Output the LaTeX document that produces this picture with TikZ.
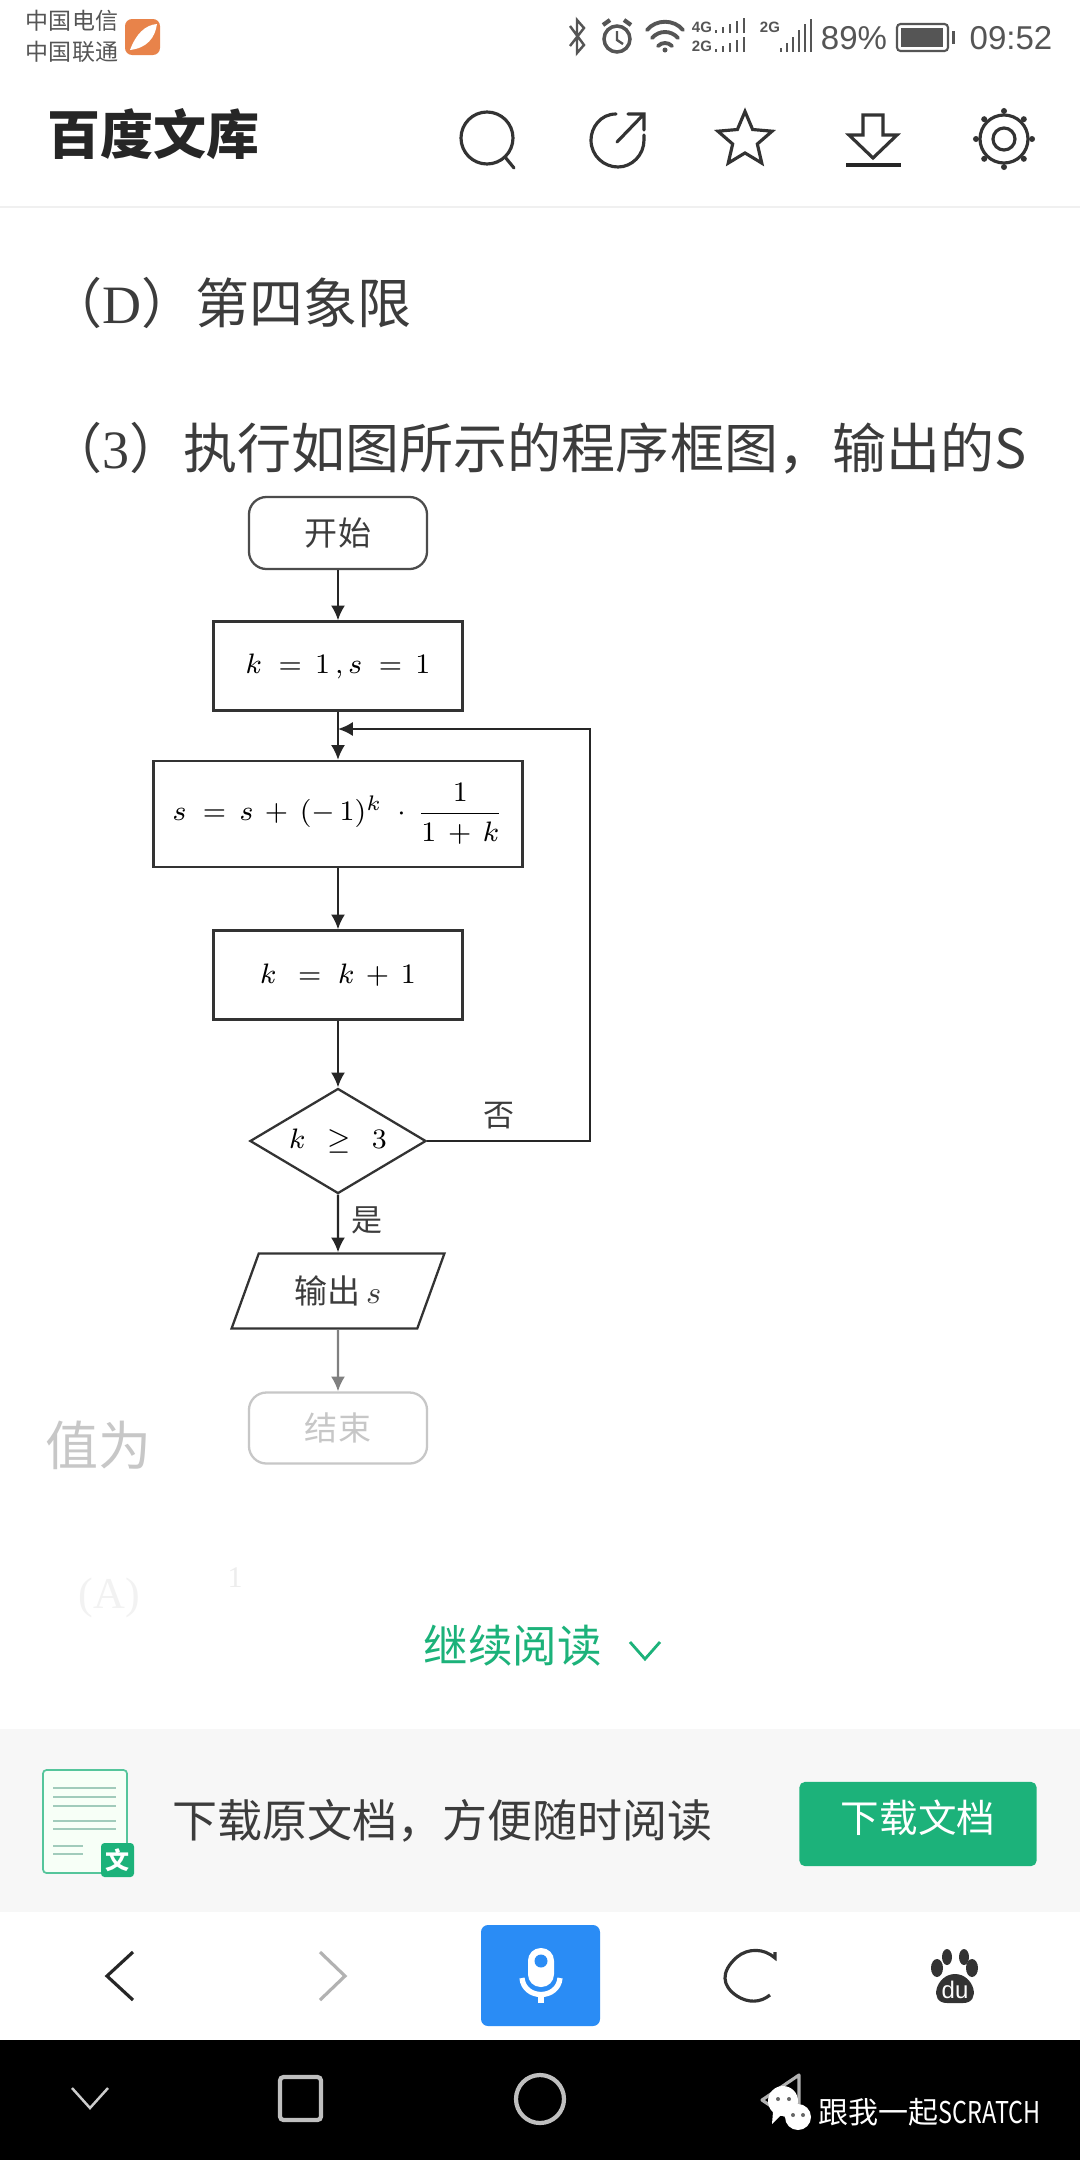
\documentclass[tikz,border=0pt]{standalone}
\usepackage{amsmath,amssymb}
\usepackage{fontspec}
\setmainfont{Noto Sans CJK SC}
\newfontfamily\latinserif{Liberation Serif}
\newfontfamily\latinsans{Liberation Sans}
\usepackage{xcolor}
\usepackage{tikz}
\usetikzlibrary{arrows.meta,shapes.geometric}
\definecolor{textgray}{HTML}{3C3C3C}
\definecolor{statusgray}{HTML}{555555}
\definecolor{logoorange}{HTML}{E8834A}
\definecolor{docgreen}{HTML}{1CB27A}
\definecolor{panelgray}{HTML}{F7F7F7}
\definecolor{micblue}{HTML}{2A8CF5}
\newcommand{\pxfont}[1]{\fontsize{\fpeval{#1*0.2845}}{\fpeval{#1*0.34}}\selectfont}

\begin{document}
\begin{tikzpicture}[
    x=0.01cm, y=-0.01cm,
    label/.style={inner sep=0, text=#1},
    label/.default=textgray,
    box/.style={draw=#1, line width=0.65pt, rectangle, inner sep=0, align=center, font=\footnotesize},
    box/.default=black!80,
    terminal/.style={box=#1, rounded corners=5pt, minimum width=1.78cm},
    decision/.style={box, diamond, aspect=1.68, minimum width=1.76cm, minimum height=1.05cm},
    inout/.style={box, trapezium, trapezium stretches=true, trapezium left angle=64, trapezium right angle=116, minimum width=2.13cm, minimum height=0.75cm},
    arrow/.style={-{Latex[length=4.2pt,width=4pt]}, line width=0.65pt, draw=#1},
    arrow/.default=black!85,
    icon/.style={draw=black!80, line width=0.9pt, line cap=round}
]
\useasboundingbox (0,0) rectangle (1080,2160);
\fill[white] (0,0) rectangle (1080,2160);

\node[label=statusgray, font=\pxfont{23}] (carrierA) at (72,21) {中国电信};
\node[label=statusgray, font=\pxfont{23}] (carrierB) at (72,52) {中国联通};
\fill[logoorange, rounded corners=2pt] (125,19) rectangle (160,55);
\fill[white] (130,50) .. controls (136,34) and (145,25) .. (157,24) .. controls (155,38) and (147,48) .. (130,50);
\draw[statusgray, line width=0.7pt] (570,26) -- (584,45) -- (577,53) -- (577,20) -- (584,28) -- (570,46);
\draw[statusgray, line width=1pt] (617,39) circle (13);
\draw[statusgray, line width=0.7pt] (617,31) -- (617,40) -- (623,44);
\draw[statusgray, line width=1.2pt] (603,25) -- (610,20) (624,20) -- (631,25);
\draw[statusgray, line width=1.1pt, line cap=round] (647,30) .. controls (656,19) and (674,19) .. (683,30);
\draw[statusgray, line width=1.1pt, line cap=round] (652,38) .. controls (659,30) and (671,30) .. (678,38);
\draw[statusgray, line width=1.1pt, line cap=round] (658,46) .. controls (662,42) and (668,42) .. (672,46);
\fill[statusgray] (665,50) circle (2.5);
\node[label=statusgray, font=\latinsans\bfseries\pxfont{15}] (netA) at (702,27) {4G};
\node[label=statusgray, font=\latinsans\bfseries\pxfont{15}] (netB) at (702,46) {2G};
\node[label=statusgray, font=\latinsans\bfseries\pxfont{15}] (netC) at (770,27) {2G};
\foreach \x/\h in {716/3,723/6,730/9,737/12,744/15}{
  \draw[statusgray, line width=0.7pt] (\x,33) -- ++(0,-\h);
  \draw[statusgray, line width=0.7pt] (\x,52) -- ++(0,-\h);
}
\foreach \x/\h in {781/4,787/9,793/15,799/22,805/28,811/33}{
  \draw[statusgray, line width=0.8pt] (\x,52) -- ++(0,-\h);
}
\node[label=statusgray, font=\latinsans\pxfont{33}] (percent) at (854,38) {89\%};
\draw[statusgray, line width=0.6pt, rounded corners=1pt] (897,24) rectangle (948,51);
\fill[statusgray] (901,28) rectangle (943,47);
\fill[statusgray] (952,31) rectangle (955,44);
\node[label=statusgray, font=\latinsans\pxfont{33}] (clock) at (1011,38) {09:52};

\node[label=black!85, anchor=west, font=\bfseries\pxfont{53}] (title) at (47,134) {百度文库};
\draw[icon] (487,138) circle (26);
\draw[icon] (505,157) -- (514,168);
\draw[icon] (616,114) .. controls (600,114) and (591,128) .. (591,140) .. controls (591,156) and (604,167) .. (618,167) .. controls (632,167) and (644,155) .. (644,140) -- (644,135);
\draw[icon] (617,142) -- (644,114) (628,114) -- (644,114) -- (644,130);
\node[icon, star, star points=5, star point ratio=2.2, inner sep=0, minimum size=0.57cm] (star) at (745,140) {};
\draw[icon] (863,115) -- (883,115) -- (883,135) -- (897,135) -- (873,158) -- (849,135) -- (863,135) -- cycle;
\draw[black!85, line width=1.3pt] (846,165) -- (901,165);
\draw[icon] (1004,139) circle (24);
\draw[icon] (1004,139) circle (11);
\foreach \a in {0,45,...,315}{
  \fill[black!80] (1004,139) ++(\a:0.28cm) circle (3);
}
\draw[black!6, line width=0.6pt] (0,207) -- (1080,207);

\node[label, anchor=west, font=\pxfont{54}] (optD) at (48,303) {（{\latinserif D}）第四象限};
\node[label, anchor=west, font=\pxfont{54}] (question) at (48,448) {（{\latinserif 3}）执行如图所示的程序框图，输出的S};

\node[terminal=black!70, minimum height=0.72cm, font=\pxfont{33}, text=textgray] (start) at (338,533) {开始};
\node[box, minimum width=2.49cm, minimum height=0.89cm] (init) at (338,666) {$k\;=\,1\,,s\;=\,1$};
\node[box, minimum width=3.69cm, minimum height=1.06cm] (update) at (338,814) {$s\;=\,s\,+\,(-\,1)^{k}\;\cdot\,\dfrac{1}{1\,+\,k}$};
\node[box, minimum width=2.49cm, minimum height=0.89cm] (incr) at (338,975) {$k\;\,=\;k\,+\,1$};
\node[decision] (test) at (338,1141) {$k\;\,\geq\;\,3$};
\node[inout, font=\pxfont{33}, text=textgray] (output) at (338,1291) {输出$\,s$};
\node[terminal=black!22, minimum height=0.71cm, font=\pxfont{33}, text=black!22] (stop) at (338,1428) {结束};
\node[label, font=\pxfont{31}] (no) at (499,1116) {否};
\node[label, font=\pxfont{31}] (yes) at (367,1220) {是};
\coordinate (merge) at (338,729);
\coordinate (corner) at (590,729);

\draw[arrow] (start) -- (init);
\draw[arrow] (init) -- (update);
\draw[arrow] (update) -- (incr);
\draw[arrow] (incr) -- (test);
\draw[arrow] (test) -- (output);
\draw[arrow=black!50] (output) -- (stop);
\draw[arrow] (test.east) -| (corner) -- (merge);

\node[label=black!22, anchor=west, font=\pxfont{53}] (value) at (45,1445) {值为};
\node[label=black!5, anchor=west, font=\latinserif\pxfont{44}] (optA) at (78,1598) {(A)};
\node[label=black!7, font=\latinserif\pxfont{30}] (fracA) at (235,1578) {1};
\node[label=docgreen, anchor=west, font=\pxfont{44.5}] (more) at (423,1646) {继续阅读};
\draw[docgreen, line width=0.8pt] (630,1642) -- (645,1659) -- (660,1642);

\fill[panelgray] (0,1729) rectangle (1080,1912);
\draw[docgreen!75, line width=0.5pt, fill=green!3, rounded corners=1pt] (43,1770) rectangle (127,1873);
\foreach \y/\w in {1788/116,1797/116,1806/116,1821/116,1829/116,1846/83,1854/83}{
  \draw[black!30!docgreen!40, line width=0.8pt] (53,\y) -- (\w,\y);
}
\fill[docgreen, rounded corners=1pt] (101,1843) rectangle (134,1877);
\node[label=white, font=\bfseries\pxfont{24}] (docmark) at (118,1860) {文};
\node[label, anchor=west, font=\pxfont{45}] (promo) at (172,1821) {下载原文档，方便随时阅读};
\node[fill=docgreen, rounded corners=1.5pt, minimum width=2.37cm, minimum height=0.84cm, inner sep=0] (download) at (918,1824) {};
\node[label=white, font=\pxfont{38.5}] (downloadText) at (918,1818) {下载文档};

\fill[white] (0,1912) rectangle (1080,2040);
\draw[black!85, line width=0.9pt] (133,1952) -- (107,1976) -- (133,2000);
\draw[black!30, line width=0.9pt] (320,1952) -- (345,1976) -- (320,2000);
\fill[micblue, rounded corners=2pt] (481,1925) rectangle (600,2026);
\fill[white, rounded corners=3.6pt] (528,1948) rectangle (554,1987);
\fill[micblue] (541,1961) circle (6.5);
\draw[white, line width=1.5pt] (522,1978) .. controls (524,2000) and (558,2000) .. (560,1978);
\draw[white, line width=1.5pt] (541,1992) -- (541,2003);
\draw[black!80, line width=0.9pt] (775,1952) -- (775,1958) .. controls (764,1948) and (748,1948) .. (737,1957) .. controls (720,1972) and (722,1986) .. (737,1996) .. controls (748,2003) and (760,2003) .. (770,1995);
\foreach \x/\y/\w/\h in {937/1968/6/9,947/1957/5/8,964/1957/5/8,972/1968/6/9}{
  \fill[black!80] (\x,\y) ellipse ({\w} and {\h});
}
\fill[black!80] (955,1974) .. controls (936,1974) and (928,2003) .. (947,2003) -- (963,2003) .. controls (982,2003) and (974,1974) .. (955,1974);
\node[label=white, font=\latinsans\pxfont{24}] (paw) at (955,1990) {du};

\fill[black] (0,2040) rectangle (1080,2160);
\draw[white!80!black, line width=0.7pt] (72,2088) -- (90,2108) -- (108,2088);
\draw[white!75!black, line width=1.2pt, rounded corners=1pt] (280,2077) rectangle (321,2120);
\draw[white!75!black, line width=1.2pt] (540,2099) circle (24);
\draw[white!70!black, line width=0.9pt, line join=round] (799,2075) -- (762,2100) -- (799,2125) -- cycle;
\fill[white] (783,2101) circle (15);
\fill[white] (798,2117) circle (13);
\fill[white] (773,2112) -- (772,2124) -- (782,2114) -- cycle;
\foreach \x/\y in {778/2099,789/2099,793/2115,803/2115}{
  \fill[black!60] (\x,\y) circle (2);
}
\node[label=white, anchor=west, font=\pxfont{30}] (brand) at (818,2112) {跟我一起\scalebox{0.78}[1]{SCRATCH}};
\end{tikzpicture}
\end{document}
